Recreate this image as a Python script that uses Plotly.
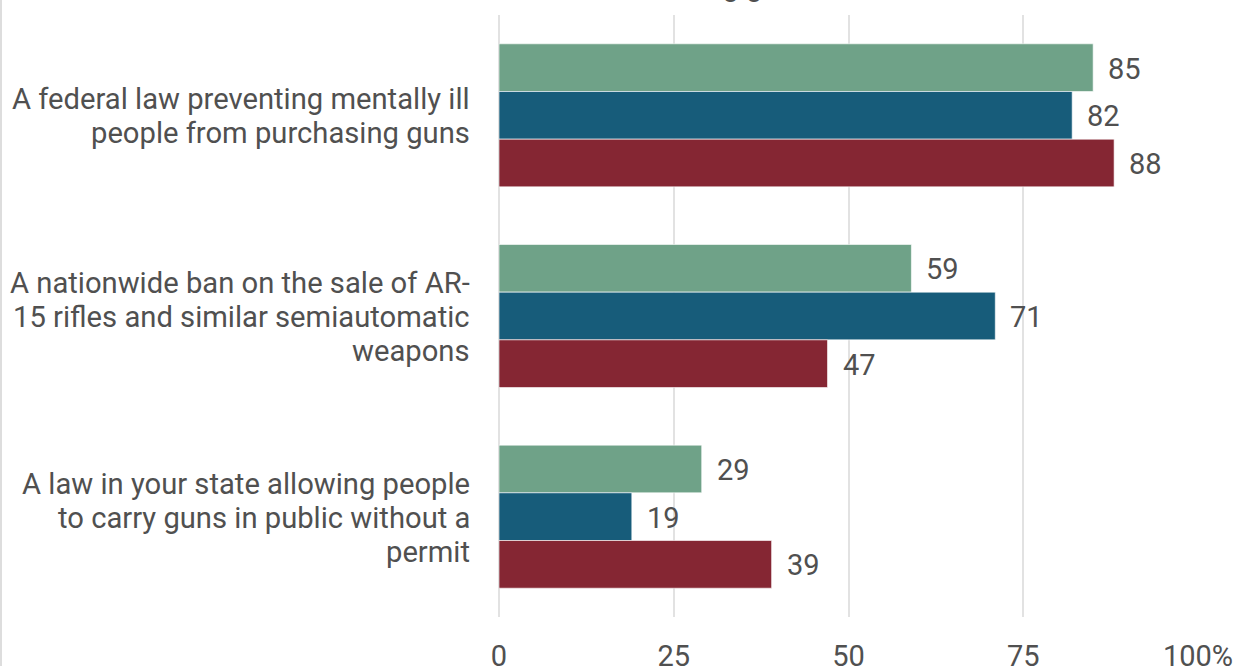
import plotly.graph_objects as go

categories = [
    "A federal law preventing mentally ill<br>people from purchasing guns",
    "A nationwide ban on the sale of AR-<br>15 rifles and similar semiautomatic<br>weapons",
    "A law in your state allowing people<br>to carry guns in public without a<br>permit",
]
series_names = ["Total", "Democrats", "Republicans"]
total = [85, 59, 29]
democrats = [82, 71, 19]
republicans = [88, 47, 39]
tick_vals = [0, 25, 50, 75, 100]
tick_text = ["0", "25", "50", "75", "100%"]
title_text = "Share who favor the following gun laws"

colors = ["#6FA288", "#175C7A", "#852633"]
series = [total, democrats, republicans]
FONT = "Roboto"
TXT = "#505050"
FS = 29

fig = go.Figure()
for name, vals, col in zip(series_names, series, colors):
    fig.add_trace(go.Bar(
        y=categories, x=vals, name=name, orientation="h",
        marker=dict(color=col, line=dict(color="rgba(255,255,255,0.6)", width=1)),
        hoverinfo="x+name",
    ))

bargap = 0.287
bar_px = 602 / 3 * (1 - bargap) / 3
annotations = []
for i, vals in enumerate(series):
    for c, v in zip(categories, vals):
        annotations.append(dict(
            x=v, y=c, xref="x", yref="y", text=str(v), showarrow=False,
            xanchor="left", yanchor="middle", xshift=13, yshift=(1 - i) * bar_px - 1,
            font=dict(family=FONT, size=FS, color=TXT),
        ))

# category labels, one text per line for tighter line spacing
LINE = 34
for c in categories:
    lines = c.split("<br>")
    n = len(lines)
    for j, ln in enumerate(lines):
        annotations.append(dict(
            x=0, y=c, xref="paper", yref="y", text=ln, showarrow=False,
            xanchor="right", yanchor="middle", xshift=-27,
            yshift=((n - 1) / 2 - j) * LINE - 1,
            font=dict(family=FONT, size=29.2, color=TXT),
        ))

annotations.append(dict(
    x=(609 - 499) / 699, y=1, xref="paper", yref="paper", text=title_text,
    showarrow=False, xanchor="center", yanchor="bottom", yshift=10,
    font=dict(family=FONT, size=FS, color=TXT),
))

fig.update_layout(
    width=1246, height=666,
    margin=dict(l=499, r=48, t=15, b=49),
    paper_bgcolor="white", plot_bgcolor="white",
    barmode="group", bargap=bargap, bargroupgap=0,
    showlegend=False,
    font=dict(family=FONT, size=FS, color=TXT),
    annotations=annotations,
    shapes=[dict(type="line", xref="paper", yref="paper",
                 x0=(1 - 499) / 699, x1=(1 - 499) / 699, y0=-49 / 602, y1=1 + 15 / 602,
                 line=dict(color="#DDDDDD", width=2))],
)
fig.update_xaxes(range=[0, 100], tickvals=tick_vals, ticktext=tick_text,
                 showgrid=True, gridcolor="#E2E2E2", gridwidth=2,
                 zeroline=True, zerolinecolor="#E2E2E2", zerolinewidth=2,
                 ticks="", ticklabelstandoff=19, showline=False, automargin=False,
                 tickfont=dict(family=FONT, size=FS, color=TXT))
fig.update_yaxes(autorange="reversed", ticks="", showticklabels=False,
                 showgrid=False, showline=False, automargin=False)

fig.write_html("out.html")
